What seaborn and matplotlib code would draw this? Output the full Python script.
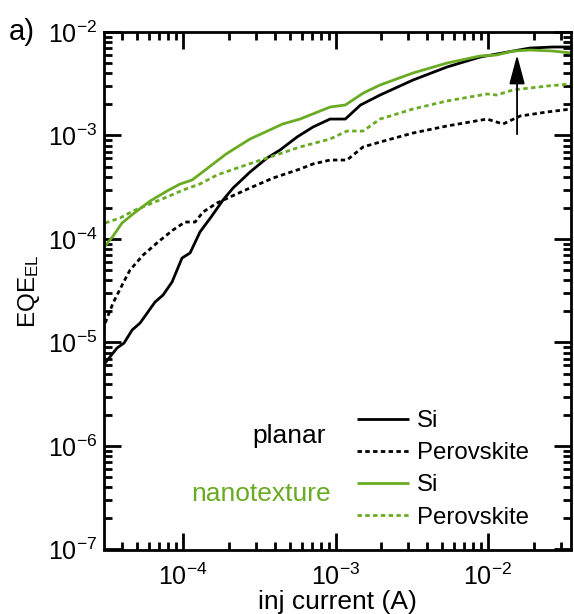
import numpy as np
import pandas as pd
import matplotlib
matplotlib.use("Agg")
import matplotlib.pyplot as plt
import seaborn as sns
from matplotlib.ticker import LogLocator, FuncFormatter, NullFormatter

# ---------------- data (log10 values) ----------------
planar_si_logx = [-4.511, -4.433, -4.387, -4.334, -4.282, -4.184, -4.131, -4.072, -4.007,
                  -3.954, -3.889, -3.816, -3.738, -3.672, -3.561, -3.449, -3.364, -3.252,
                  -3.148, -3.036, -2.936, -2.836, -2.708, -2.492, -2.269, -2.052, -1.944,
                  -1.836, -1.725, -1.574, -1.456]
planar_si_logy = [-5.198, -5.053, -5.005, -4.879, -4.812, -4.609, -4.541, -4.415, -4.184,
                  -4.135, -3.932, -3.787, -3.623, -3.507, -3.353, -3.217, -3.140, -3.014,
                  -2.918, -2.841, -2.841, -2.705, -2.609, -2.464, -2.338, -2.242, -2.213,
                  -2.184, -2.155, -2.145, -2.145]

planar_pk_logx = [-4.511, -4.459, -4.393, -4.348, -4.262, -4.164, -4.066, -3.987, -3.921,
                  -3.869, -3.777, -3.692, -3.561, -3.410, -3.233, -3.148, -3.036, -2.925,
                  -2.820, -2.708, -2.492, -2.269, -2.007, -1.902, -1.790, -1.613, -1.456]
planar_pk_logy = [-4.812, -4.618, -4.425, -4.300, -4.155, -4.029, -3.913, -3.836, -3.836,
                  -3.739, -3.652, -3.594, -3.507, -3.411, -3.324, -3.275, -3.237, -3.237,
                  -3.111, -3.063, -2.976, -2.908, -2.841, -2.889, -2.812, -2.773, -2.744]

nano_si_logx = [-4.511, -4.459, -4.400, -4.328, -4.216, -4.105, -4.020, -3.941, -3.889,
                -3.803, -3.718, -3.561, -3.347, -3.233, -3.036, -2.936, -2.817, -2.708,
                -2.492, -2.269, -2.052, -1.944, -1.836, -1.725, -1.574, -1.456]
nano_si_logy = [-4.068, -3.971, -3.845, -3.758, -3.633, -3.536, -3.469, -3.430, -3.372,
                -3.275, -3.179, -3.034, -2.889, -2.841, -2.725, -2.705, -2.589, -2.512,
                -2.396, -2.300, -2.232, -2.222, -2.184, -2.174, -2.184, -2.203]

nano_pk_logx = [-4.511, -4.413, -4.328, -4.216, -4.105, -4.000, -3.889, -3.777, -3.626,
                -3.410, -3.233, -3.036, -2.925, -2.820, -2.708, -2.492, -2.269, -2.007,
                -1.944, -1.836, -1.613, -1.456]
nano_pk_logy = [-3.845, -3.797, -3.729, -3.661, -3.594, -3.527, -3.468, -3.381, -3.304,
                -3.198, -3.111, -3.034, -2.957, -2.957, -2.841, -2.744, -2.666, -2.599,
                -2.609, -2.560, -2.522, -2.502]

arrow_x = 0.0155
arrow_y_tail = 1.03e-3
arrow_y_tip = 6.0e-3

series_names = ["planar Si", "planar Perovskite", "nanotexture Si", "nanotexture Perovskite"]
legend_labels = ["Si", "Perovskite", "Si", "Perovskite"]
group_labels = ["planar", "nanotexture"]

GREEN = "#6aab24"
BLACK = "#000000"

# ---------------- style ----------------
sns.set_theme(style="ticks")
plt.rcParams["font.family"] = ["Liberation Sans", "DejaVu Sans"]
plt.rcParams["mathtext.fontset"] = "custom"
plt.rcParams["mathtext.rm"] = "Liberation Sans"
plt.rcParams["mathtext.it"] = "Liberation Sans:italic"
plt.rcParams["mathtext.bf"] = "Liberation Sans:bold"
plt.rcParams["axes.linewidth"] = 2.0
for k in ["text.color", "axes.labelcolor", "xtick.color", "ytick.color",
          "xtick.labelcolor", "ytick.labelcolor", "axes.edgecolor"]:
    plt.rcParams[k] = "black"

fig = plt.figure(figsize=(5.74, 6.14), dpi=100)
ax = fig.add_axes([104/574, 1-549.5/614, (571-104)/574, (549.5-32)/614])

datasets = [
    (planar_si_logx, planar_si_logy, BLACK, "-"),
    (planar_pk_logx, planar_pk_logy, BLACK, (0, (1.6, 1.2))),
    (nano_si_logx, nano_si_logy, GREEN, "-"),
    (nano_pk_logx, nano_pk_logy, GREEN, (0, (1.6, 1.2))),
]
handles = []
for (lx, ly, col, ls), name, lab in zip(datasets, series_names, legend_labels):
    df = pd.DataFrame({"x": 10**np.array(lx), "y": 10**np.array(ly)})
    sns.lineplot(data=df, x="x", y="y", ax=ax, color=col, lw=2.0, sort=False,
                 estimator=None, label=None)
    ln = ax.get_lines()[-1]
    ln.set_linestyle(ls)
    ln.set_solid_capstyle("butt")
    ln.set_dash_capstyle("butt")
    ln.set_solid_joinstyle("round")
    handles.append((ln, lab))

ax.set_xscale("log")
ax.set_yscale("log")
ax.set_xlim(3.03e-5, 0.035)
ax.set_ylim(1e-7, 1e-2)

def fmt(v, pos):
    e = int(np.round(np.log10(v)))
    return r"10$^{\mathregular{%d}}$" % e

ax.xaxis.set_major_locator(LogLocator(base=10, numticks=20))
ax.yaxis.set_major_locator(LogLocator(base=10, numticks=20))
ax.xaxis.set_minor_locator(LogLocator(base=10, subs=np.arange(2, 10), numticks=20))
ax.yaxis.set_minor_locator(LogLocator(base=10, subs=np.arange(2, 10), numticks=20))
ax.xaxis.set_major_formatter(FuncFormatter(fmt))
ax.yaxis.set_major_formatter(FuncFormatter(fmt))
ax.xaxis.set_minor_formatter(NullFormatter())
ax.yaxis.set_minor_formatter(NullFormatter())

ax.tick_params(which="both", direction="in", top=True, right=True, color="black")
ax.tick_params(which="major", length=12, width=2.0, labelsize=18)
ax.tick_params(axis="x", which="major", pad=10)
ax.tick_params(axis="y", which="major", pad=5)
ax.tick_params(which="minor", length=6, width=2.0)
for s in ax.spines.values():
    s.set_color("black")
    s.set_linewidth(2.0)

ax.set_xlabel("inj current (A)", fontsize=19, labelpad=0)
ax.set_ylabel(r"EQE$_{\mathregular{EL}}$", fontsize=17.5, labelpad=4)

# arrow
ax.annotate("", xy=(arrow_x, arrow_y_tip), xytext=(arrow_x, arrow_y_tail),
            arrowprops=dict(arrowstyle="-|>,head_length=1.5,head_width=0.4",
                            color="black", lw=1.3, shrinkA=0, shrinkB=0))

# legend
leg = ax.legend([h for h, _ in handles], [l for _, l in handles],
                loc="lower left", bbox_to_anchor=(0.521, 0.022), frameon=False,
                fontsize=17.3, handlelength=2.15, handletextpad=0.35,
                labelspacing=0.42, borderaxespad=0)

ax.text(289/574, 1-436/614, group_labels[0], transform=fig.transFigure,
        fontsize=19, color="black", ha="center", va="center")
ax.text(261/574, 1-494/614, group_labels[1], transform=fig.transFigure,
        fontsize=19, color=GREEN, ha="center", va="center")

fig.text(9/574, 1-32/614, "a)", fontsize=21, ha="left", va="center")

fig.savefig("out.png", dpi=100)
